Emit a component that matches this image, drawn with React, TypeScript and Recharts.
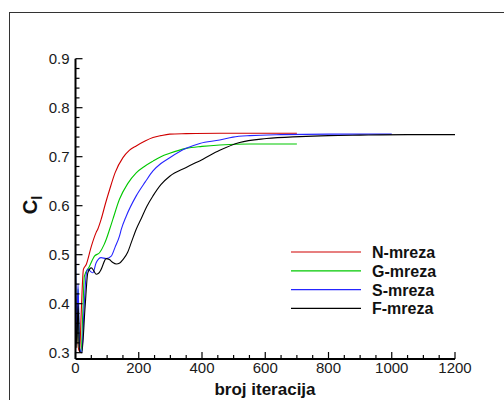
import React from "react";
import { LineChart, Line, XAxis, YAxis, Legend, Label } from "recharts";

// iteration, Cl pairs
const nX = [0, 3, 6, 9, 13, 18, 25, 34, 50, 65, 71, 81, 95, 108, 125, 150, 170, 192, 220, 245, 270, 298, 350, 456, 550, 700];
const nY = [0.45, 0.33, 0.42, 0.31, 0.302, 0.38, 0.47, 0.48, 0.517, 0.545, 0.553, 0.572, 0.605, 0.633, 0.667, 0.698, 0.713, 0.722, 0.732, 0.739, 0.743, 0.746, 0.747, 0.748, 0.748, 0.748];

const gX = [0, 4, 8, 12, 18, 23, 28, 44, 60, 76, 90, 97, 108, 118, 139, 165, 192, 220, 245, 270, 298, 350, 400, 456, 550, 700];
const gY = [0.48, 0.32, 0.43, 0.31, 0.302, 0.38, 0.456, 0.476, 0.497, 0.504, 0.52, 0.531, 0.552, 0.572, 0.613, 0.645, 0.667, 0.681, 0.691, 0.7, 0.707, 0.717, 0.721, 0.724, 0.726, 0.726];

const sX = [0, 4, 8, 13, 20, 27, 34, 39, 47, 55, 65, 81, 97, 113, 125, 139, 145, 160, 192, 220, 245, 270, 298, 350, 393, 456, 498, 551, 650, 800, 1000];
const sY = [0.52, 0.33, 0.44, 0.31, 0.3, 0.39, 0.46, 0.47, 0.466, 0.463, 0.483, 0.494, 0.492, 0.497, 0.515, 0.538, 0.552, 0.578, 0.62, 0.648, 0.671, 0.686, 0.698, 0.717, 0.727, 0.734, 0.74, 0.743, 0.745, 0.746, 0.746];

const fX = [0, 4, 8, 13, 20, 30, 39, 50, 57, 65, 73, 81, 97, 107, 118, 129, 140, 150, 165, 176, 192, 208, 225, 245, 270, 298, 350, 403, 456, 519, 604, 709, 800, 899, 1050, 1200];
const fY = [0.42, 0.31, 0.4, 0.302, 0.3, 0.39, 0.463, 0.473, 0.468, 0.46, 0.462, 0.47, 0.492, 0.49, 0.484, 0.481, 0.483, 0.49, 0.505, 0.524, 0.552, 0.574, 0.598, 0.62, 0.643, 0.66, 0.678, 0.695, 0.713, 0.729, 0.737, 0.741, 0.743, 0.744, 0.745, 0.745];

const seriesNames = ["N-mreza", "G-mreza", "S-mreza", "F-mreza"];
const seriesColors = ["#d00000", "#00c800", "#2525ff", "#000000"];

const xTicks = Array.from({ length: 25 }, (_, i) => i * 50);
const yTicks = Array.from({ length: 31 }, (_, i) => Math.round((0.3 + i * 0.02) * 100) / 100);

const toPoints = (xs: number[], ys: number[]) => xs.map((x, i) => ({ x, y: ys[i] }));
const series = [toPoints(nX, nY), toPoints(gX, gY), toPoints(sX, sY), toPoints(fX, fY)];

const font = "'Liberation Sans', Arial, sans-serif";

const XTick = (props: any) => {
  const { x, y, payload } = props;
  const v = payload.value;
  const major = v % 200 === 0;
  return (
    <g>
      <line x1={x} y1={y} x2={x} y2={y - (major ? 7 : 4)} stroke="#000" strokeWidth={1.2} />
      {major && (
        <text x={x} y={y + 14} textAnchor="middle" fontSize={15} fontFamily={font} fill="#1a1a1a">
          {v}
        </text>
      )}
    </g>
  );
};

const YTick = (props: any) => {
  const { x, y, payload } = props;
  const v = payload.value;
  const major = Math.abs(v * 10 - Math.round(v * 10)) < 1e-6;
  return (
    <g>
      <line x1={x} y1={y} x2={x + (major ? 7 : 4)} y2={y} stroke="#000" strokeWidth={1.2} />
      {major && (
        <text x={x - 6} y={y + 5} textAnchor="end" fontSize={15} fontFamily={font} fill="#1a1a1a">
          {v.toFixed(1)}
        </text>
      )}
    </g>
  );
};

const LegendBox = () => (
  <svg width={160} height={80}>
    {seriesNames.map((name, i) => (
      <g key={name}>
        <line x1={6} x2={76} y1={11 + i * 18.8} y2={11 + i * 18.8} stroke={seriesColors[i]} strokeWidth={1.2} />
        <text x={87} y={17 + i * 18.8} fontSize={16} fontWeight="bold" fontFamily={font} fill="#111">
          {name}
        </text>
      </g>
    ))}
  </svg>
);

export default function App() {
  return (
    <div style={{ position: "absolute", left: 0, top: 0, width: 504, height: 400, overflow: "hidden", background: "#fff" }}>
      <div style={{ position: "absolute", left: 9, top: 12, width: 520, height: 420, border: "1px solid #333" }} />
      <div style={{ position: "absolute", left: 0, top: 0 }}>
        <LineChart width={504} height={400} margin={{ top: 58.7, right: 49, bottom: 40, left: 74.5 }}>
          <XAxis
            type="number"
            dataKey="x"
            domain={[0, 1200]}
            ticks={xTicks}
            interval={0}
            height={1}
            tickSize={0}
            tickMargin={0}
            tickLine={false}
            tick={<XTick />}
            axisLine={{ stroke: "#000", strokeWidth: 2 }}
          >
            <Label
              content={() => (
                <text x={265} y={395} textAnchor="middle" fontSize={17} fontWeight="bold" fontFamily={font} fill="#111">
                  broj iteracija
                </text>
              )}
            />
          </XAxis>
          <YAxis
            type="number"
            domain={[0.2871, 0.9]}
            ticks={yTicks}
            interval={0}
            width={1}
            tickSize={0}
            tickMargin={0}
            tickLine={false}
            tick={<YTick />}
            axisLine={{ stroke: "#000", strokeWidth: 2 }}
          >
            <Label
              content={() => (
                <text
                  x={37}
                  y={205}
                  textAnchor="middle"
                  fontSize={20}
                  fontWeight="bold"
                  fontFamily={font}
                  fill="#111"
                  transform="rotate(-90, 37, 205)"
                >
                  C<tspan fontSize={14} dy={5}>l</tspan>
                </text>
              )}
            />
          </YAxis>
          <Legend
            layout="vertical"
            align="center"
            verticalAlign="middle"
            wrapperStyle={{ left: 285, top: 241, width: 160, height: 80 }}
            content={() => <LegendBox />}
          />
          {series.map((d, i) => (
            <Line
              key={seriesNames[i]}
              data={d}
              dataKey="y"
              name={seriesNames[i]}
              type="monotone"
              stroke={seriesColors[i]}
              strokeWidth={1.1}
              dot={false}
              activeDot={false}
              isAnimationActive={false}
            />
          ))}
        </LineChart>
      </div>
    </div>
  );
}
